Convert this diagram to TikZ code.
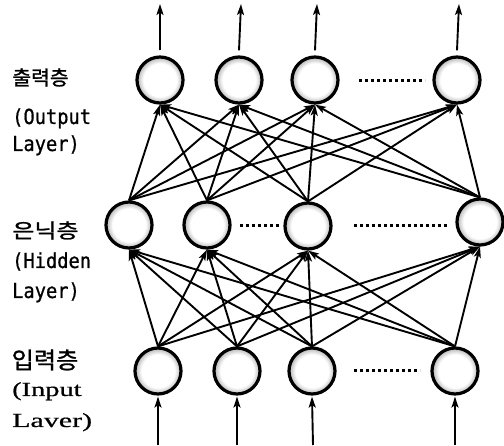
\documentclass[tikz,border=0pt]{standalone}
\usepackage{fontspec}
\usepackage{graphicx}
\newfontfamily\kr[FakeBold=1.2]{Noto Sans CJK KR}
\newfontfamily\monof[FakeBold=0.8]{DejaVu Sans Mono}
\newfontfamily\seriff[FakeBold=0.6]{Liberation Serif}
\usetikzlibrary{arrows.meta}
\pgfdeclareradialshading{ringshade}{\pgfpoint{0bp}{0bp}}{color(0bp)=(white); color(18bp)=(white); color(25bp)=(black!30); color(50bp)=(black!30)}
\tikzset{
  neuron/.style={circle, draw=black, line width=3.2pt, minimum size=46pt, inner sep=0pt, shading=ringshade},
  conn/.style={line width=1.9pt, -{Stealth[length=11pt,width=7pt,inset=2.5pt]}},
  dotrow/.style={line width=3pt, dash pattern=on 3pt off 3pt},
  krlab/.style={anchor=center, inner sep=0pt, font=\kr\fontsize{20}{20}\selectfont},
  monolab/.style={anchor=base west, inner sep=0pt, font=\monof\fontsize{18}{18}\selectfont},
  seriflab/.style={anchor=base west, inner sep=0pt, font=\seriff\fontsize{20}{20}\selectfont}
}
\newcommand{\tallmono}[1]{\scalebox{1.04}[1.15]{#1}}
\begin{document}
\begin{tikzpicture}[x=1pt,y=-1pt]
\useasboundingbox (0,0) rectangle (504,446);
% output layer
\node[neuron] (O1) at (160,80) {};
\node[neuron] (O2) at (239,80) {};
\node[neuron] (O3) at (315,80) {};
\node[neuron] (O4) at (457,80) {};
% hidden layer
\node[neuron] (H1) at (129,225) {};
\node[neuron] (H2) at (207,225) {};
\node[neuron] (H3) at (308,226) {};
\node[neuron] (H4) at (480,222) {};
% input layer
\node[neuron] (I1) at (158,371) {};
\node[neuron] (I2) at (237,371) {};
\node[neuron] (I3) at (312,371) {};
\node[neuron] (I4) at (455,371) {};
% dotted rows
\coordinate (d1a) at (359,81); \coordinate (d1b) at (425,81);
\coordinate (d2a) at (240,226); \coordinate (d2b) at (280,226);
\coordinate (d3a) at (354,226); \coordinate (d3b) at (448,226);
\coordinate (d4a) at (354,371); \coordinate (d4b) at (420,371);
\draw[dotrow] (d1a) -- (d1b);
\draw[dotrow] (d2a) -- (d2b);
\draw[dotrow] (d3a) -- (d3b);
\draw[dotrow] (d4a) -- (d4b);
% connections hidden -> output
\foreach \h in {1,2,3,4}{
  \foreach \o in {1,2,3,4}{
    \draw[conn] (H\h.north) -- (O\o.south);
  }
}
% connections input -> hidden
\foreach \i in {1,2,3,4}{
  \foreach \h in {1,2,3,4}{
    \draw[conn] (I\i.north) -- (H\h.south);
  }
}
% output arrows
\coordinate (t1) at (160,4);
\coordinate (t2) at (241,4);
\coordinate (t3) at (317,4);
\coordinate (t4) at (459,4);
\foreach \k in {1,2,3,4}{
  \draw[conn] ([yshift=5pt]O\k.north) -- (t\k);
}
% input arrows
\coordinate (b1) at (158,445);
\coordinate (b2) at (237,445);
\coordinate (b3) at (313,445);
\coordinate (b4) at (455,445);
\foreach \k in {1,2,3,4}{
  \draw[conn] (b\k) -- ([yshift=-1pt]I\k.south);
}
% labels
\node[krlab] (lo1) at (40.5,77.5) {\scalebox{1.02}[1]{출력층}};
\node[monolab] (lo2) at (12,124) {\tallmono{(Output}};
\node[monolab] (lo3) at (12,151) {\tallmono{Layer)}};
\node[krlab] (lh1) at (45.5,230.5) {\scalebox{1.2}[1]{은닉층}};
\node[monolab] (lh2) at (12,268) {\tallmono{(Hidden}};
\node[monolab] (lh3) at (12,298) {\tallmono{Layer)}};
\node[krlab, font=\kr\fontsize{23}{23}\selectfont] (li1) at (45,360) {\scalebox{1.05}[1]{입력층}};
\node[seriflab] (li2) at (12,396) {\scalebox{1.42}[1]{(Input}};
\node[seriflab] (li3) at (12,427) {\scalebox{1.5}[1]{Laver)}};
\end{tikzpicture}
\end{document}
